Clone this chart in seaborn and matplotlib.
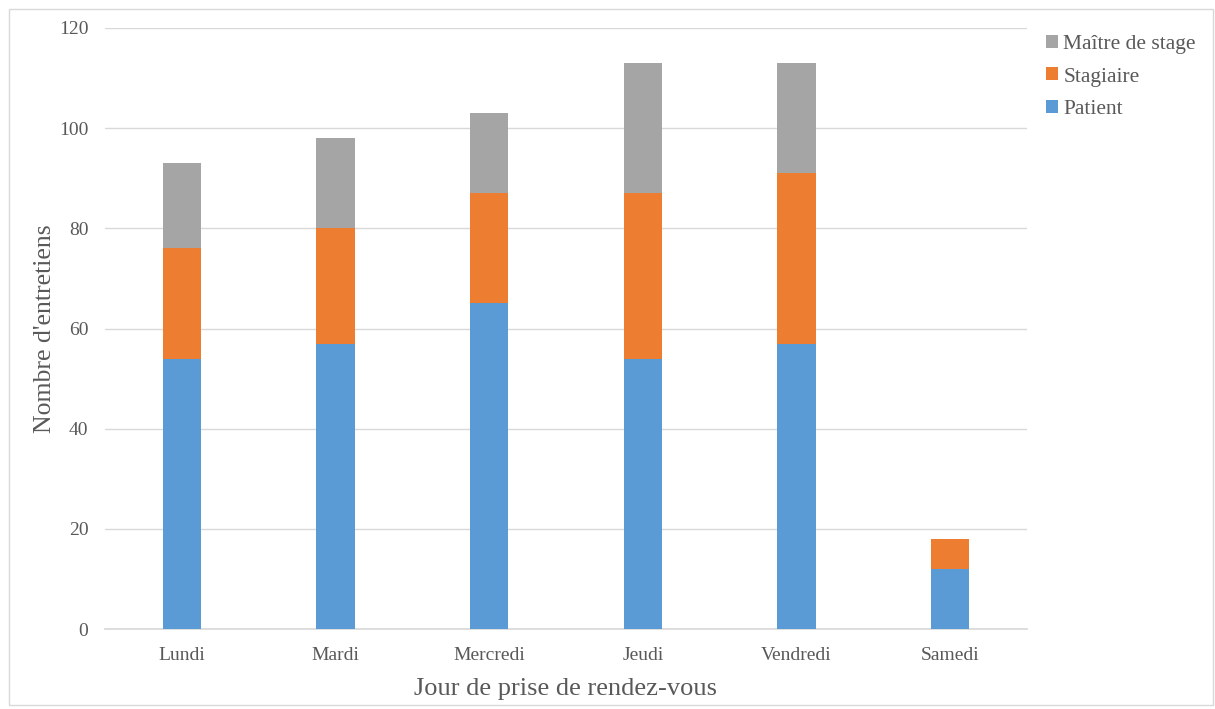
import matplotlib
matplotlib.use('Agg')
import matplotlib.pyplot as plt
import seaborn as sns
import pandas as pd
from matplotlib.patches import Patch, Rectangle

jours = ['Lundi', 'Mardi', 'Mercredi', 'Jeudi', 'Vendredi', 'Samedi']
patient = [54, 57, 65, 54, 57, 12]
stagiaire = [22, 23, 22, 33, 34, 6]
maitre = [17, 18, 16, 26, 22, 0]

couleurs = {'Patient': '#5b9bd5', 'Stagiaire': '#ed7d31', 'Maître de stage': '#a5a5a5'}
texte = '#595959'

sns.set_theme(style='white')
plt.rcParams['font.family'] = ['Liberation Serif', 'DejaVu Serif']

df = pd.DataFrame({'jour': jours, 'Patient': patient, 'Stagiaire': stagiaire,
                   'Maître de stage': maitre})
df['cum2'] = df['Patient'] + df['Stagiaire']
df['cum3'] = df['cum2'] + df['Maître de stage']

fig = plt.figure(figsize=(12.15, 7.09), dpi=100)
ax = fig.add_axes([105 / 1215, 80 / 709, 922 / 1215, 601 / 709])

# empilement: on dessine le total puis on recouvre
for col, nom in [('cum3', 'Maître de stage'), ('cum2', 'Stagiaire'), ('Patient', 'Patient')]:
    sns.barplot(data=df, x='jour', y=col, color=couleurs[nom], width=0.25,
                saturation=1, ax=ax, zorder=3, linewidth=0, edgecolor='none')

ax.set_ylim(0, 120)
ax.set_yticks(range(0, 121, 20))
ax.yaxis.grid(True, color='#d9d9d9', linewidth=1, zorder=0)
ax.set_axisbelow(True)
for s in ['top', 'right', 'left']:
    ax.spines[s].set_visible(False)
ax.spines['bottom'].set_color('#d9d9d9')
ax.tick_params(axis='both', length=0, labelsize=14, labelcolor=texte)
ax.tick_params(axis='y', pad=12)
ax.tick_params(axis='x', pad=13)

ax.set_xlabel('Jour de prise de rendez-vous', fontsize=19, color=texte, labelpad=10)
ax.set_ylabel("Nombre d'entretiens", fontsize=18.5, color=texte, labelpad=2)

noms = ['Maître de stage', 'Stagiaire', 'Patient']
handles = [Patch(facecolor=couleurs[k], edgecolor='none') for k in noms]
leg = fig.legend(handles, noms,
                 loc='upper left', bbox_to_anchor=(1046 / 1215, 1 - 35 / 709),
                 frameon=False, fontsize=15.5, handlelength=0.55, handleheight=0.55,
                 handletextpad=0.25, labelspacing=0.62, borderaxespad=0,
                 borderpad=0)
for t in leg.get_texts():
    t.set_color(texte)

fig.patches.append(Rectangle((9 / 1215, 4 / 709), 1204 / 1215, 696 / 709,
                             transform=fig.transFigure, fill=False,
                             edgecolor='#d9d9d9', linewidth=1))

fig.savefig('out.png', dpi=100)
